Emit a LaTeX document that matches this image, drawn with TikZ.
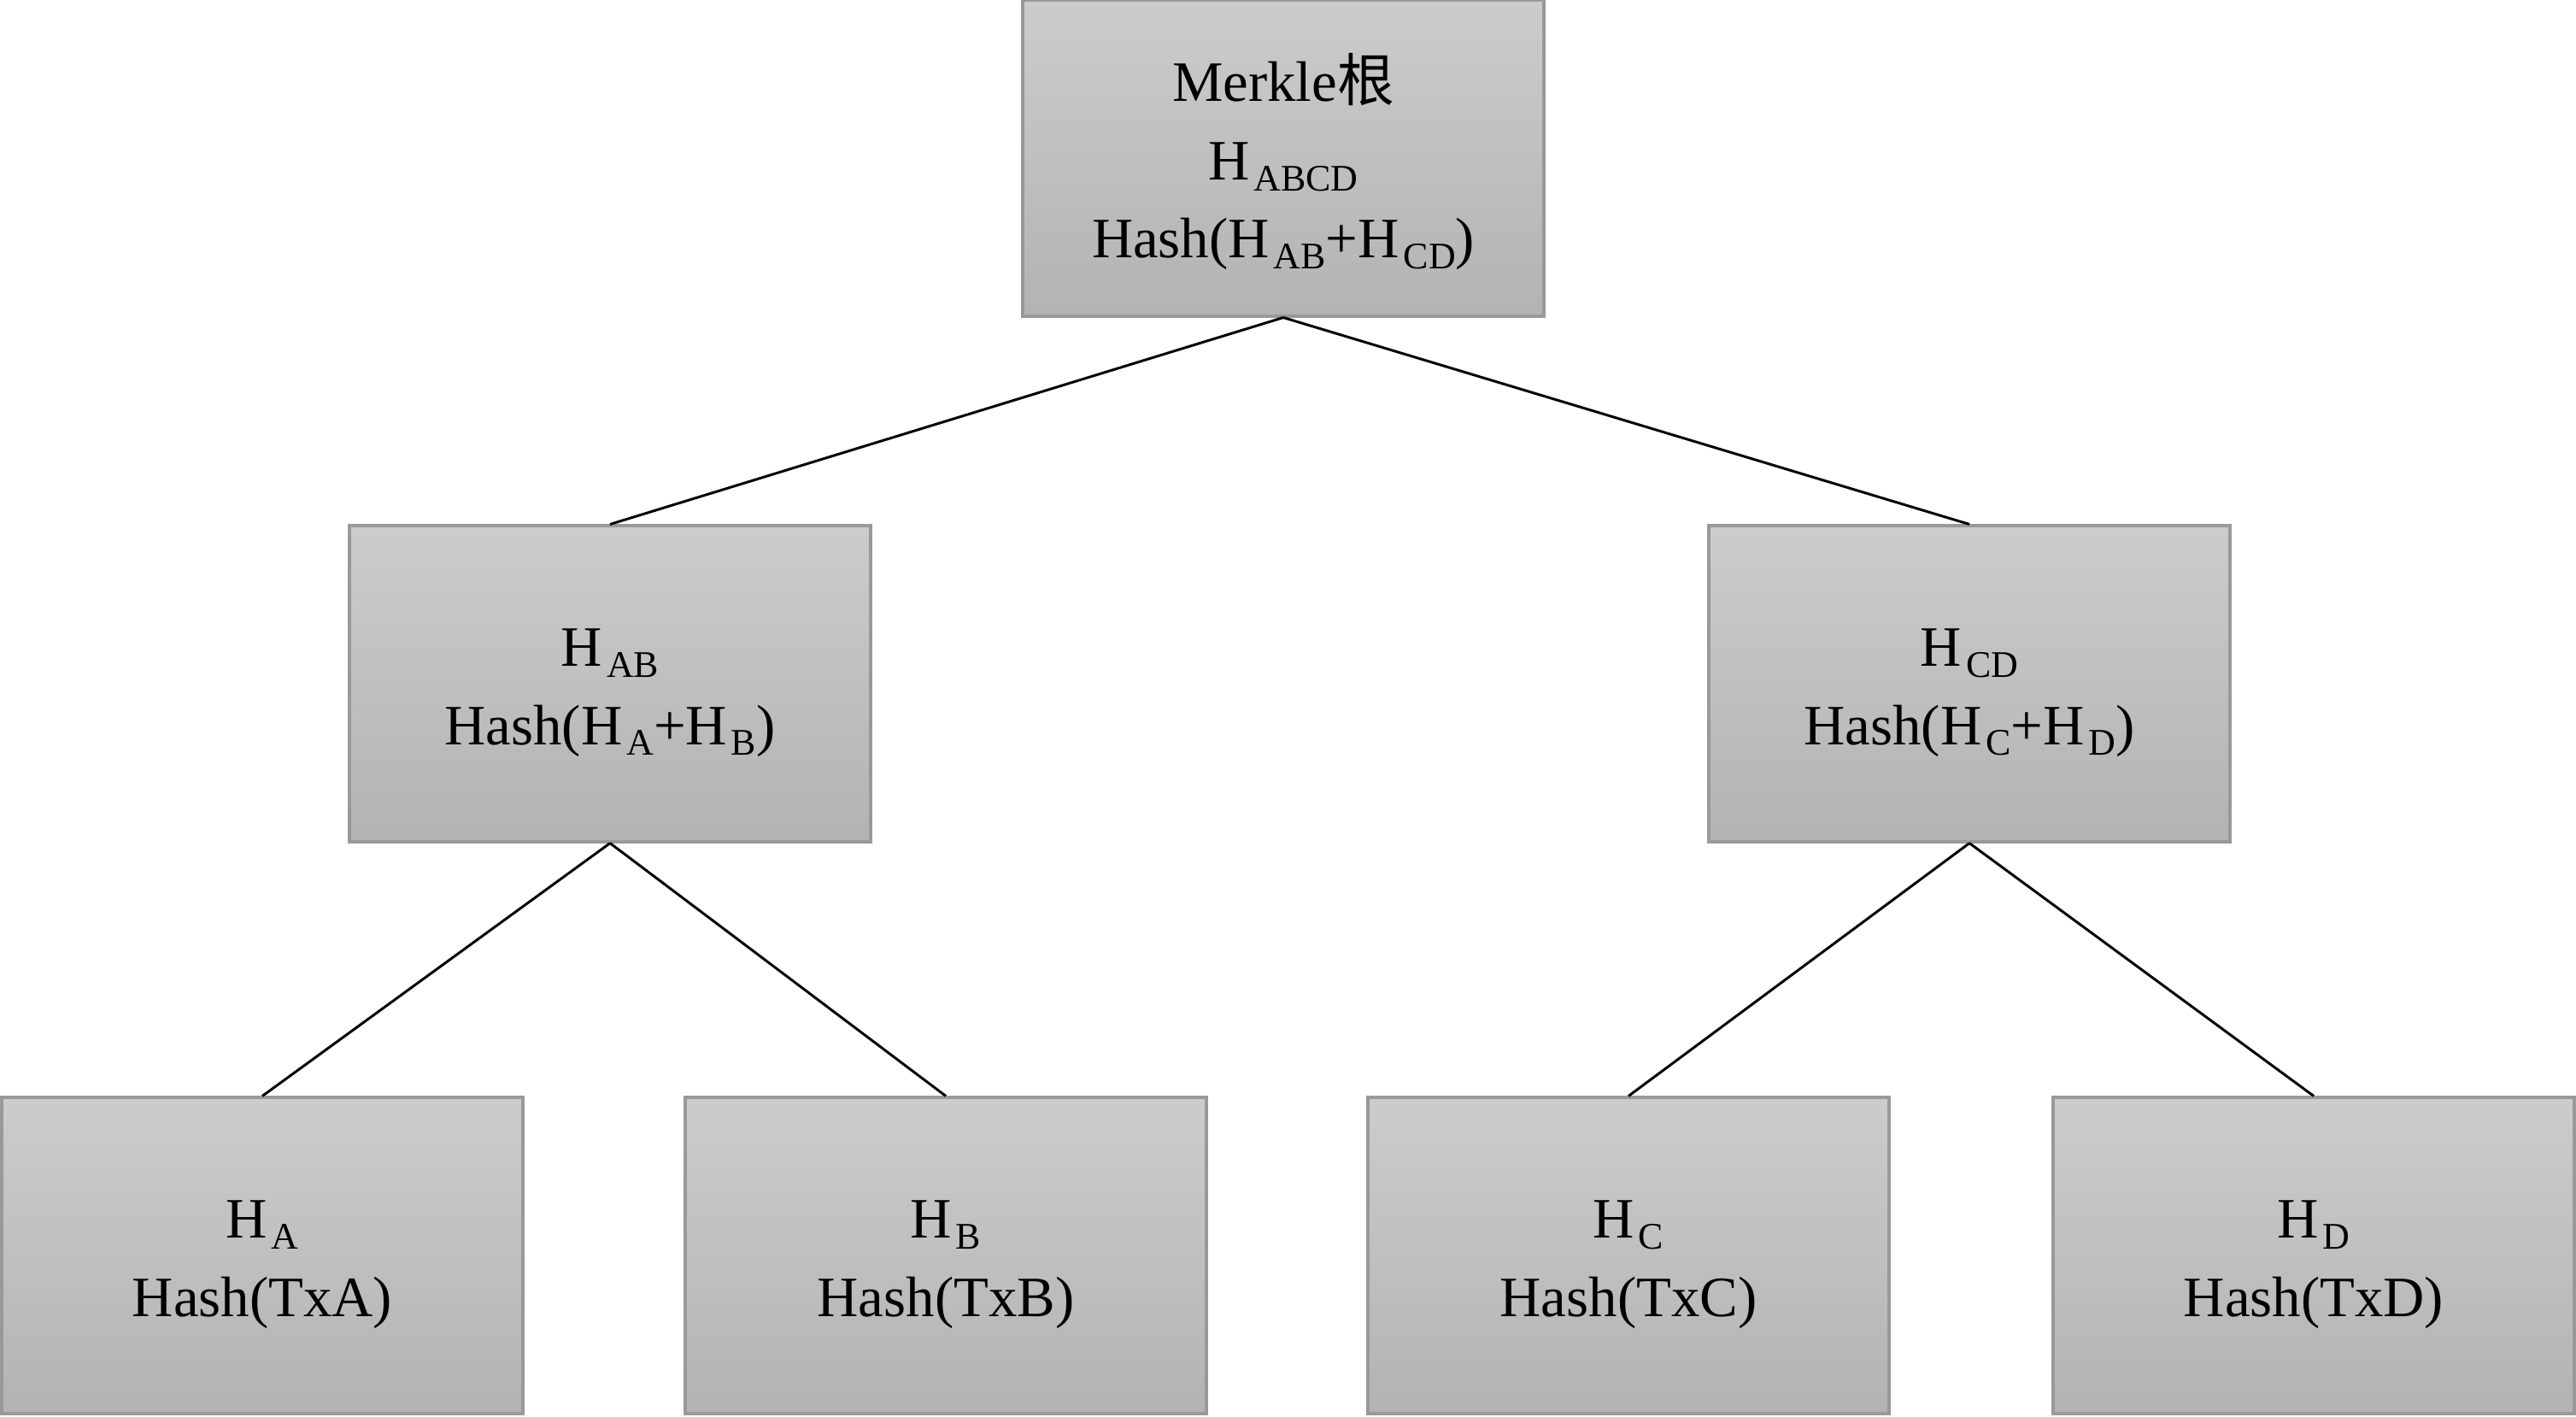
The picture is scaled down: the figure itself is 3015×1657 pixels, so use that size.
\documentclass[tikz,border=0pt]{standalone}
\usepackage{fontspec}
\setmainfont{Liberation Serif}
\newfontfamily\cjk{Noto Sans CJK SC}
\newcommand\mysub[1]{\kern1.4pt\raisebox{-3.6pt}{\fontsize{12.5}{13}\selectfont #1}}
\newcommand\tstrut{\rule{0pt}{18.5pt}}
\begin{document}
\begin{tikzpicture}[x=0.01cm,y=-0.01cm,
  hbox/.style={rectangle, draw={rgb,255:red,153;green,153;blue,153}, line width=1.1pt,
    top color={rgb,255:red,204;green,204;blue,204}, bottom color={rgb,255:red,179;green,179;blue,179},
    minimum width=6.09cm, minimum height=3.69cm, inner sep=0pt, align=center,
    font=\fontsize{19}{26}\selectfont},
  link/.style={draw=black, line width=0.85pt}]
\useasboundingbox (0,0) rectangle (3015,1657);
\node[hbox] (root) at (1502,185) {\tstrut Merkle{\cjk 根}\\H\mysub{ABCD}\\Hash(H\mysub{AB}+H\mysub{CD})};
\node[hbox] (hab) at (714,800) {\tstrut H\mysub{AB}\\Hash(H\mysub{A}+H\mysub{B})};
\node[hbox] (hcd) at (2305,800) {\tstrut H\mysub{CD}\\Hash(H\mysub{C}+H\mysub{D})};
\node[hbox] (ha) at (307,1469) {\tstrut H\mysub{A}\\Hash(TxA)};
\node[hbox] (hb) at (1107,1469) {\tstrut H\mysub{B}\\Hash(TxB)};
\node[hbox] (hc) at (1906,1469) {\tstrut H\mysub{C}\\Hash(TxC)};
\node[hbox] (hd) at (2708,1469) {\tstrut H\mysub{D}\\Hash(TxD)};
\draw[link] (root.south) -- (hab.north);
\draw[link] (root.south) -- (hcd.north);
\draw[link] (hab.south) -- (ha.north);
\draw[link] (hab.south) -- (hb.north);
\draw[link] (hcd.south) -- (hc.north);
\draw[link] (hcd.south) -- (hd.north);
\end{tikzpicture}
\end{document}
